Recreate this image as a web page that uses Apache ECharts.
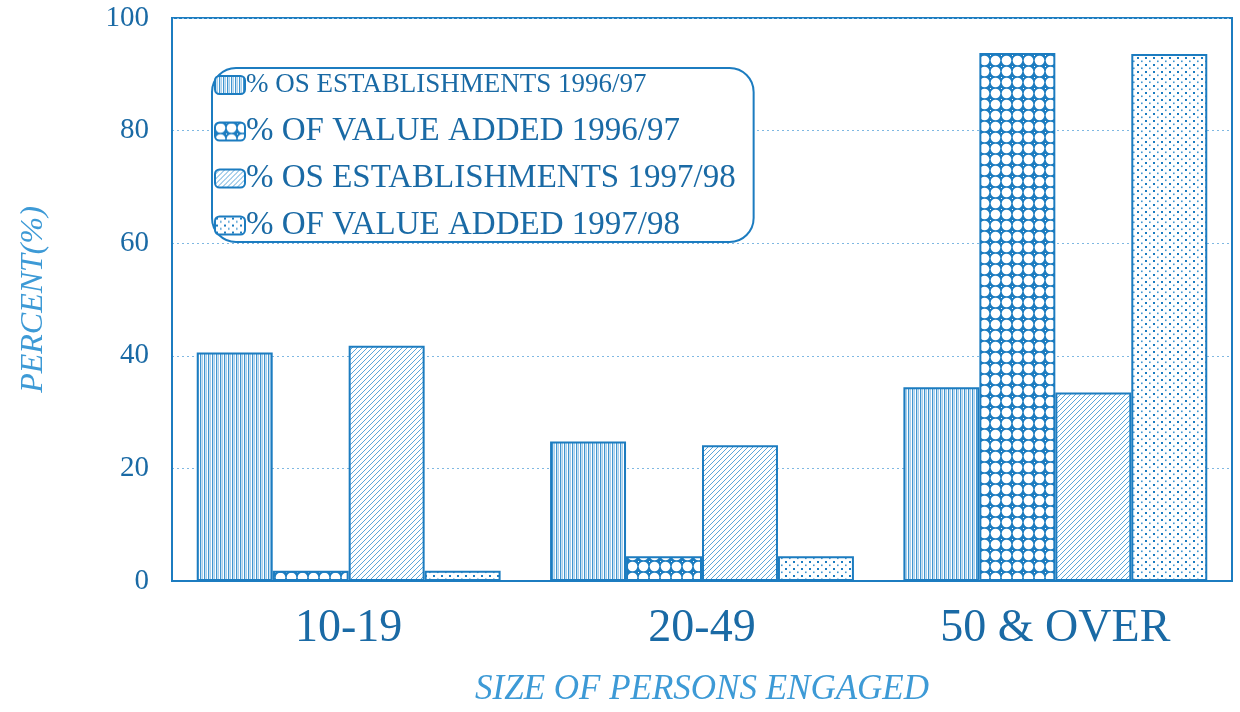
<!DOCTYPE html>
<html>
<head>
<meta charset="utf-8">
<script src="https://cdn.jsdelivr.net/npm/echarts@6/dist/echarts.min.js"></script>
<style>
  html, body { margin: 0; padding: 0; background: #fff; }
  #chartMain { width: 1240px; height: 712px; }
</style>
</head>
<body>
<div id="chartMain"></div>
<script>
// categories / series
var categories = ['10-19', '20-49', '50 & OVER'];
var seriesNames = [
    '% OS ESTABLISHMENTS 1996/97',
    '% OF VALUE ADDED 1996/97',
    '% OS ESTABLISHMENTS 1997/98',
    '% OF VALUE ADDED 1997/98'
];
var estab9697 = [40.6, 24.8, 34.4];
var value9697 = [1.8, 4.4, 93.8];
var estab9798 = [41.8, 24.1, 33.5];
var value9798 = [1.8, 4.4, 93.6];
var yTicks = [0, 20, 40, 60, 80, 100];

var BLUE = '#1c7cc0';
var TXT = '#1a6aa5';

// pattern canvases
function makeCanvas(w, h, draw) {
    var c = document.createElement('canvas');
    c.width = w; c.height = h;
    var ctx = c.getContext('2d');
    ctx.fillStyle = '#fff';
    ctx.fillRect(0, 0, w, h);
    draw(ctx);
    return c;
}

// vertical lines
var patVert = makeCanvas(4, 4, function (ctx) {
    ctx.fillStyle = '#3f95d0';
    ctx.fillRect(0, 0, 1.3, 4);
    ctx.fillStyle = '#a9d0ec';
    ctx.fillRect(2, 0, 1, 4);
});
// circles
var patCirc = makeCanvas(11, 11, function (ctx) {
    ctx.fillStyle = BLUE;
    ctx.fillRect(0, 0, 11, 11);
    ctx.fillStyle = '#fff';
    ctx.beginPath();
    ctx.arc(5.5, 5.5, 4.8, 0, Math.PI * 2);
    ctx.fill();
    ctx.fillRect(0, 0, 1, 1);
});
// diagonal hatching
var patDiag = makeCanvas(5, 5, function (ctx) {
    ctx.strokeStyle = '#5aa6da';
    ctx.lineWidth = 1;
    ctx.beginPath();
    ctx.moveTo(-1, 6); ctx.lineTo(6, -1);
    ctx.moveTo(-1, 1); ctx.lineTo(1, -1);
    ctx.moveTo(4, 6); ctx.lineTo(6, 4);
    ctx.stroke();
});
// dots
var patDots = makeCanvas(8, 7, function (ctx) {
    ctx.fillStyle = BLUE;
    ctx.fillRect(1, 1, 2, 2);
    ctx.fillStyle = '#3f95d0';
    ctx.fillRect(5, 4.5, 1.6, 1.6);
});

function barSeries(name, data, pat) {
    return {
        name: name,
        type: 'bar',
        data: data,
        barGap: '0%',
        barCategoryGap: '14%',
        itemStyle: {
            color: { image: pat, repeat: 'repeat' },
            borderColor: BLUE,
            borderWidth: 2
        },
        emphasis: { disabled: true }
    };
}

var option = {
    backgroundColor: '#fff',
    animation: false,
    textStyle: { fontFamily: 'Liberation Serif' },
    grid: {
        left: 172,
        right: 8,
        top: 18,
        bottom: 130,
        show: true,
        borderColor: BLUE,
        borderWidth: 2,
        backgroundColor: 'transparent'
    },
    legend: {
        orient: 'vertical',
        left: 212,
        top: 68,
        padding: [1, 18, 0, 2],
        itemGap: 14,
        itemWidth: 30,
        itemHeight: 18,
        backgroundColor: '#fff',
        borderColor: BLUE,
        borderWidth: 2,
        borderRadius: 24,
        z: 10,
        textStyle: {
            fontFamily: 'Liberation Serif',
            fontSize: 33,
            color: TXT,
            lineHeight: 32,
            padding: [0, 0, 0, -4]
        },
        data: [
            { name: seriesNames[0], textStyle: { fontSize: 27 } },
            { name: seriesNames[1] },
            { name: seriesNames[2] },
            { name: seriesNames[3] }
        ]
    },
    xAxis: {
        type: 'category',
        data: categories,
        name: 'SIZE OF PERSONS ENGAGED',
        nameLocation: 'middle',
        nameGap: 91,
        nameTextStyle: {
            fontFamily: 'Liberation Serif',
            fontStyle: 'italic',
            fontSize: 35,
            color: '#3d9ad6'
        },
        axisLine: { lineStyle: { color: BLUE, width: 2 } },
        axisTick: { show: false },
        axisLabel: {
            fontFamily: 'Liberation Serif',
            fontSize: 46,
            color: TXT,
            margin: 25
        }
    },
    yAxis: {
        type: 'value',
        min: yTicks[0],
        max: yTicks[yTicks.length - 1],
        interval: 20,
        name: 'PERCENT(%)',
        nameLocation: 'middle',
        nameGap: 122,
        nameTextStyle: {
            fontFamily: 'Liberation Serif',
            fontStyle: 'italic',
            fontSize: 32,
            color: '#3d9ad6'
        },
        axisLine: { show: true, lineStyle: { color: BLUE, width: 2 } },
        axisTick: { show: false },
        axisLabel: {
            fontFamily: 'Liberation Serif',
            fontSize: 29,
            color: TXT,
            margin: 23
        },
        splitLine: {
            show: true,
            lineStyle: { color: '#7fb8e2', type: [2, 3], width: 1 }
        }
    },
    series: [
        barSeries(seriesNames[0], estab9697, patVert),
        barSeries(seriesNames[1], value9697, patCirc),
        barSeries(seriesNames[2], estab9798, patDiag),
        barSeries(seriesNames[3], value9798, patDots)
    ]
};

var mychart = echarts.init(document.getElementById('chartMain'));
mychart.setOption(option);
</script>
</body>
</html>
